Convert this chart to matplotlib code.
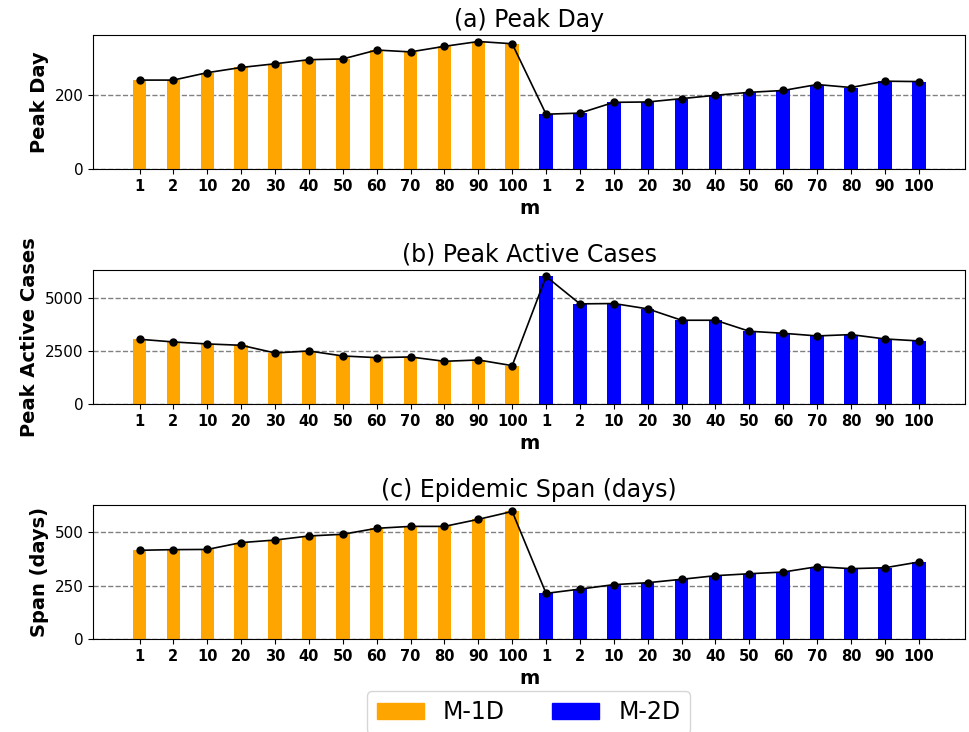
import numpy as np
import matplotlib
matplotlib.use("Agg")
import matplotlib.pyplot as plt
from matplotlib.patches import Patch

# m values, repeated for M-1D then M-2D
m_labels = ["1", "2", "10", "20", "30", "40", "50", "60", "70", "80", "90", "100"]

# (a) Peak Day
peak_day_1d = [240, 240, 260, 274, 284, 295, 297, 321, 316, 331, 344, 338]
peak_day_2d = [148, 151, 180, 181, 190, 199, 207, 212, 228, 220, 237, 236]

# (b) Peak Active Cases
peak_cases_1d = [3060, 2933, 2839, 2776, 2413, 2507, 2271, 2192, 2224, 2019, 2082, 1814]
peak_cases_2d = [6024, 4731, 4747, 4495, 3958, 3958, 3438, 3343, 3217, 3280, 3075, 2981]

# (c) Epidemic Span (days)
span_1d = [416, 419, 420, 452, 464, 483, 491, 519, 528, 528, 561, 598]
span_2d = [214, 234, 255, 264, 280, 297, 306, 314, 339, 330, 334, 361]

panels = [
    ("(a) Peak Day", "Peak Day", peak_day_1d, peak_day_2d, [0, 200]),
    ("(b) Peak Active Cases", "Peak Active Cases", peak_cases_1d, peak_cases_2d, [0, 2500, 5000]),
    ("(c) Epidemic Span (days)", "Span (days)", span_1d, span_2d, [0, 250, 500]),
]

c1d, c2d = "orange", "blue"

fig, axes = plt.subplots(3, 1, figsize=(9.7, 7.32), dpi=100)
fig.subplots_adjust(left=0.096, right=0.995, top=0.952, bottom=0.127, hspace=0.754)

n = len(m_labels)
x = np.arange(2 * n)
for ax, (title, ylab, v1, v2, yt) in zip(axes, panels):
    vals = list(v1) + list(v2)
    cols = [c1d] * n + [c2d] * n
    ax.bar(x, vals, width=0.4, color=cols, zorder=2)
    ax.plot(x, vals, color="black", marker="o", markersize=5, linewidth=1.2, zorder=3)
    ax.set_title(title, fontsize=17)
    ax.set_ylabel(ylab, fontsize=14, fontweight="bold")
    ax.set_xlabel("m", fontsize=14, fontweight="bold")
    ax.set_xticks(x)
    ax.set_xticklabels(m_labels * 2, fontsize=10.5, fontweight="bold")
    ax.set_yticks(yt)
    ax.tick_params(axis="y", labelsize=11)
    ax.yaxis.grid(True, linestyle="--", color="gray", linewidth=1, zorder=0)
    ax.set_axisbelow(True)

handles = [Patch(color=c1d, label="M-1D"), Patch(color=c2d, label="M-2D")]
fig.legend(handles=handles, loc="upper center", bbox_to_anchor=(0.545, 0.056),
           ncol=2, fontsize=17, borderaxespad=0)

fig.savefig("out.png", dpi=100)
